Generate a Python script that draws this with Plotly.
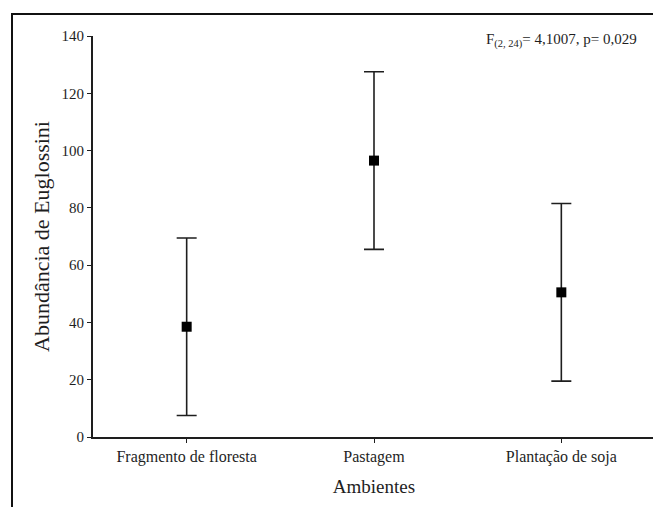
import plotly.graph_objects as go

categories = ["Fragmento de floresta", "Pastagem", "Plantação de soja"]
means = [38.5, 96.5, 50.5]
errors = [31.0, 31.0, 31.0]
y_ticks = [0, 20, 40, 60, 80, 100, 120, 140]

font_family = "Liberation Serif, Times New Roman, serif"
ink = "#1e1e1e"

fig = go.Figure()
fig.add_trace(go.Scatter(
    x=categories, y=means, mode="markers",
    marker=dict(symbol="square", size=10, color="black"),
    error_y=dict(type="data", array=errors, visible=True, color=ink,
                 thickness=1.6, width=10),
    showlegend=False,
))

# page body has an 8px margin, so the figure is 8px smaller and offset
fig.update_layout(
    width=653, height=499,
    margin=dict(l=85, r=6, t=28, b=70),
    paper_bgcolor="white", plot_bgcolor="white",
    font=dict(family=font_family, color=ink, size=15),
    xaxis=dict(
        type="category", range=[-0.5, 2.5], automargin=False,
        showline=True, linecolor=ink, linewidth=2,
        ticks="outside", ticklen=4, tickwidth=1, tickcolor=ink,
        showgrid=False, zeroline=False,
        tickfont=dict(size=16, family=font_family, color=ink),
        title=dict(text="Ambientes", font=dict(size=19, family=font_family, color=ink), standoff=14),
    ),
    yaxis=dict(
        range=[0, 140], tickvals=y_ticks, automargin=False,
        showline=True, linecolor=ink, linewidth=2,
        ticks="outside", ticklen=4, tickwidth=1, tickcolor=ink,
        showgrid=False, zeroline=False,
        tickfont=dict(size=15, family=font_family, color=ink),
        title=dict(text="Abundância de Euglossini", font=dict(size=22, family=font_family, color=ink), standoff=6),
    ),
    annotations=[dict(
        text="F<sub>(2, 24)</sub>= 4,1007, p= 0,029",
        xref="paper", yref="paper", x=(639 - 93) / 562, y=(437 - 40) / 401,
        xanchor="right", yanchor="middle", showarrow=False,
        font=dict(size=15, family=font_family, color=ink),
    )],
    shapes=[dict(
        type="rect", xref="paper", yref="paper",
        x0=(12 - 93) / 562, x1=(667 - 93) / 562,
        y0=(437 - 512) / 401, y1=(437 - 14) / 401,
        line=dict(color="#111111", width=2), fillcolor="rgba(0,0,0,0)",
        layer="below",
    )],
)

fig.write_html("out.html")
